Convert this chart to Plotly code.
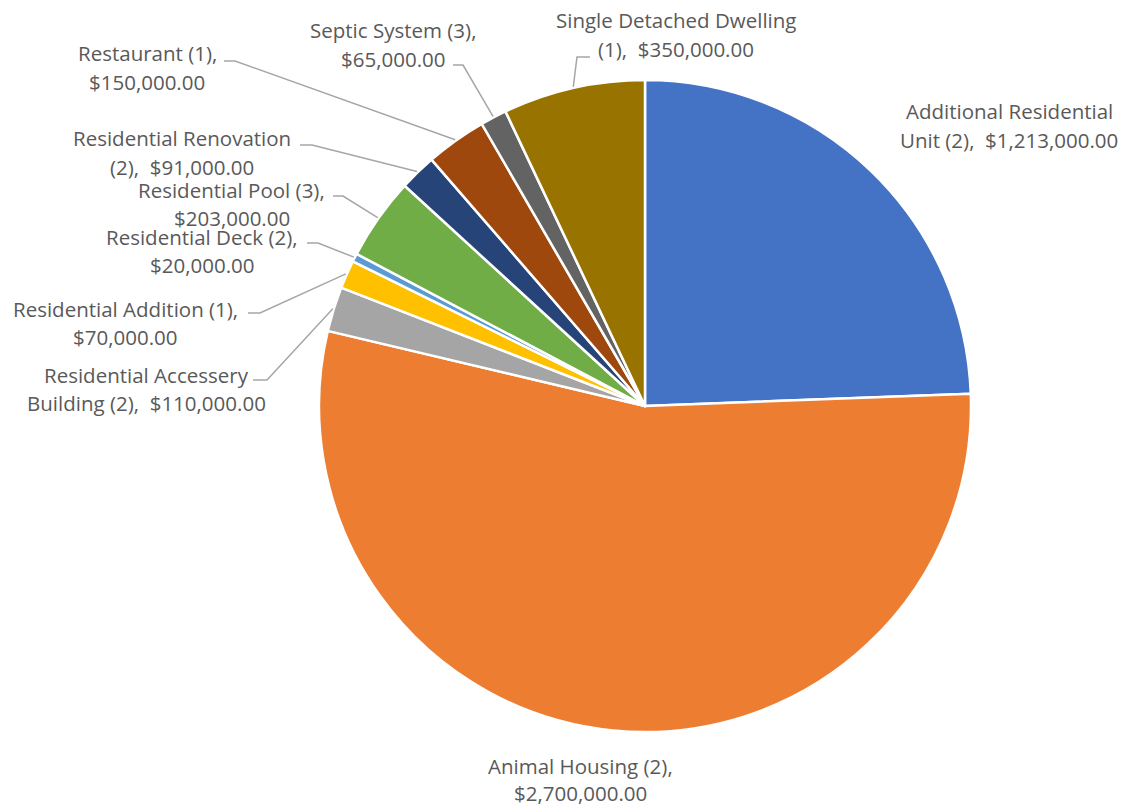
import math
import plotly.graph_objects as go

# ---------------- data ----------------
categories = [
    "Additional Residential Unit",
    "Animal Housing",
    "Residential Accessery Building",
    "Residential Addition",
    "Residential Deck",
    "Residential Pool",
    "Residential Renovation",
    "Restaurant",
    "Septic System",
    "Single Detached Dwelling",
]
counts = [2, 2, 2, 1, 2, 3, 2, 1, 3, 1]
values = [1213000, 2700000, 110000, 70000, 20000, 203000, 91000, 150000, 65000, 350000]
colors = ["#4472C4", "#ED7D31", "#A5A5A5", "#FFC000", "#5B9BD5",
          "#70AD47", "#264478", "#9E480E", "#636363", "#997300"]

# ---------------- layout constants (pixels) ----------------
W, H = 1129, 806
CX, CY, R = 645, 406, 326
TEXT_COLOR = "#595959"
LEADER_COLOR = "#A6A6A6"
FONT = "Open Sans"
FONT_SIZE = 20.5

# per label: centre x, line-1 y, line-2 y, tokens on first line
label_layout = [
    (1009, 111, 140, 2),
    (580, 766, 793, 3),
    (146, 375, 403, 2),
    (125, 309, 337, 3),
    (202, 237, 265, 3),
    (232, 190, 218, 3),
    (182, 138, 167, 2),
    (147, 53, 82, 2),
    (393, 30, 59, 3),
    (676, 20, 49, 3),
]
# leader: (end near text x, elbow x, y) or None
leaders = [
    None,
    None,
    (253, 267, 380),
    (248, 260, 313),
    (307, 318, 243),
    (333, 343, 196),
    (300, 312, 145),
    (224, 235, 61),
    (453, 463, 65),
    (590, 577, 57),
]


def px(x):
    return x / W


def py(y):
    return 1 - y / H


fig = go.Figure(
    go.Pie(
        labels=categories,
        values=values,
        sort=False,
        direction="clockwise",
        rotation=0,
        textinfo="none",
        hoverinfo="label+value",
        marker=dict(colors=colors, line=dict(color="white", width=2.5)),
        domain=dict(x=[px(CX - R), px(CX + R)], y=[py(CY + R), py(CY - R)]),
        showlegend=False,
    )
)

total = sum(values)
annotations = []
shapes = []
cum = 0.0


def join(toks):
    s = ""
    for t in toks:
        if s:
            s += "\u00a0 " if t.startswith("$") else " "
        s += t
    return s


for i, (cat, n, v) in enumerate(zip(categories, counts, values)):
    frac = v / total
    mid = (cum + frac / 2) * 2 * math.pi
    cum += frac
    tokens = cat.split(" ") + [f"({n}),", f"${v:,.2f}"]
    cx, y1, y2, k = label_layout[i]

    for txt, yy in ((join(tokens[:k]), y1), (join(tokens[k:]), y2)):
        annotations.append(dict(
            x=px(cx), y=py(yy), xref="paper", yref="paper",
            text=txt, showarrow=False, xanchor="center", yanchor="middle",
            borderpad=0,
            font=dict(family=FONT, size=FONT_SIZE, color=TEXT_COLOR),
        ))

    ld = leaders[i]
    if ld is not None:
        sx = CX + (R + 1) * math.sin(mid)
        sy = CY - (R + 1) * math.cos(mid)
        x0, x1, yy = ld
        path = (f"M {px(x0)} {py(yy)} L {px(x1)} {py(yy)} "
                f"L {px(sx)} {py(sy)}")
        shapes.append(dict(type="path", path=path, xref="paper", yref="paper",
                           line=dict(color=LEADER_COLOR, width=1.5)))

fig.update_layout(
    width=W, height=H,
    margin=dict(l=0, r=0, t=0, b=0),
    paper_bgcolor="white",
    plot_bgcolor="white",
    annotations=annotations,
    shapes=shapes,
)

fig.write_html("out.html")
